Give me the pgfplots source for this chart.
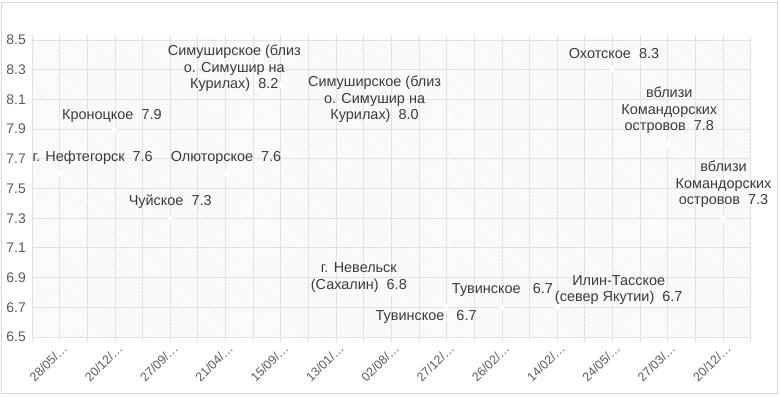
\documentclass[border=0pt]{standalone}
\usepackage{fontspec}
\setmainfont{Liberation Sans}
\usepackage{pgfplots}
\pgfplotsset{compat=1.18}
\usetikzlibrary{patterns.meta}
\definecolor{gridc}{HTML}{E2E2E2}
\definecolor{bordc}{HTML}{D9D9D9}
\definecolor{txt}{HTML}{3A3A3A}
\definecolor{ticktxt}{HTML}{595959}
\pgfplotstableread{
x y
0.5 7.6
1.5 7.9
2.5 7.3
3.5 7.6
4.5 8.2
5.5 8.0
6.5 6.8
7.5 6.7
8.5 6.7
9.5 6.7
10.5 8.3
11.5 7.8
12.5 7.3
}\quakes
\begin{document}
\begin{tikzpicture}
\useasboundingbox (-32bp,-60bp) rectangle (748bp,337bp);
\draw[bordc, line width=0.8bp] (-31bp,-56bp) rectangle (745bp,335bp);
\begin{axis}[
  at={(0,0)}, anchor=south west,
  width=718.7bp, height=297bp, scale only axis,
  xmin=0, xmax=13, ymin=6.5, ymax=8.5,
  clip mode=individual,
  axis background/.style={pattern={Lines[angle=-45,distance=2.8bp,line width=0.5bp]}, pattern color=black!8},
  ytick={6.5,6.7,6.9,7.1,7.3,7.5,7.7,7.9,8.1,8.3,8.5},
  yticklabel style={/pgf/number format/fixed,/pgf/number format/fixed zerofill,/pgf/number format/precision=1, font=\fontsize{14}{16}\selectfont, color=ticktxt, inner sep=1bp},
  /pgf/number format/assume math mode=true,
  xtick={0.5,1.5,...,12.5},
  minor xtick={0,1,...,13},
  xticklabels={28/05/…,20/12/…,27/09/…,21/04/…,15/09/…,13/01/…,02/08/…,27/12/…,26/02/…,14/02/…,24/05/…,27/03/…,20/12/…},
  xticklabel style={rotate=45, anchor=north east, font=\fontsize{12.5}{14}\selectfont, color=ticktxt, inner sep=1bp, xshift=2bp, yshift=-1bp},
  grid=both,
  major grid style={gridc, line width=0.8bp},
  minor grid style={gridc, line width=0.8bp},
  axis line style={gridc, line width=0.8bp},
  tick align=outside,
  xtick style={gridc, line width=0.8bp},
  major tick length=5bp, minor tick length=5bp,
  ytick style={draw=none},
]
\addplot[only marks, color=white, mark=diamond*, mark size=3bp, mark options={fill=white, draw=white}] table[x=x,y=y] {\quakes};
\begin{scope}[every node/.style={font=\fontsize{14.5}{16.5}\selectfont, text=txt, align=center, inner sep=0pt}]
\node at (axis cs:0.5,7.6) [shift={(33bp,16bp)}] {г. Нефтегорск\ \ 7.6};
\node at (axis cs:1.5,7.9) [shift={(-3bp,13bp)}] {Кроноцкое\ \ 7.9};
\node at (axis cs:2.5,7.3) [shift={(0bp,16.6bp)}] {Чуйское\ \ 7.3};
\node at (axis cs:3.5,7.6) [shift={(0.5bp,16bp)}] {Олюторское\ \ 7.6};
\node at (axis cs:4.5,8.2) [shift={(-46.5bp,16bp)}] {Симуширское (близ\\о. Симушир на\\Курилах)\ \ 8.2};
\node at (axis cs:5.5,8.0) [shift={(38.5bp,15bp)}] {Симуширское (близ\\о. Симушир на\\Курилах)\ \ 8.0};
\node at (axis cs:6.5,6.8) [shift={(-32.5bp,15bp)}] {г. Невельск\\(Сахалин)\ \ 6.8};
\node at (axis cs:7.5,6.7) [shift={(-20.5bp,-10bp)}] {Тувинское\ \ \ 6.7};
\node at (axis cs:8.5,6.7) [shift={(0.5bp,17bp)}] {Тувинское\ \ \ 6.7};
\node at (axis cs:9.5,6.7) [shift={(61.5bp,17bp)}] {Илин-Тасское\\(север Якутии)\ \ 6.7};
\node at (axis cs:10.5,8.3) [shift={(1.5bp,16.6bp)}] {Охотское\ \ 8.3};
\node at (axis cs:11.5,7.8) [shift={(1.5bp,33.6bp)}] {вблизи\\Командорских\\островов\ \ 7.8};
\node at (axis cs:12.5,7.3) [shift={(0.5bp,33.6bp)}] {вблизи\\Командорских\\островов\ \ 7.3};
\end{scope}
\end{axis}
\end{tikzpicture}
\end{document}
